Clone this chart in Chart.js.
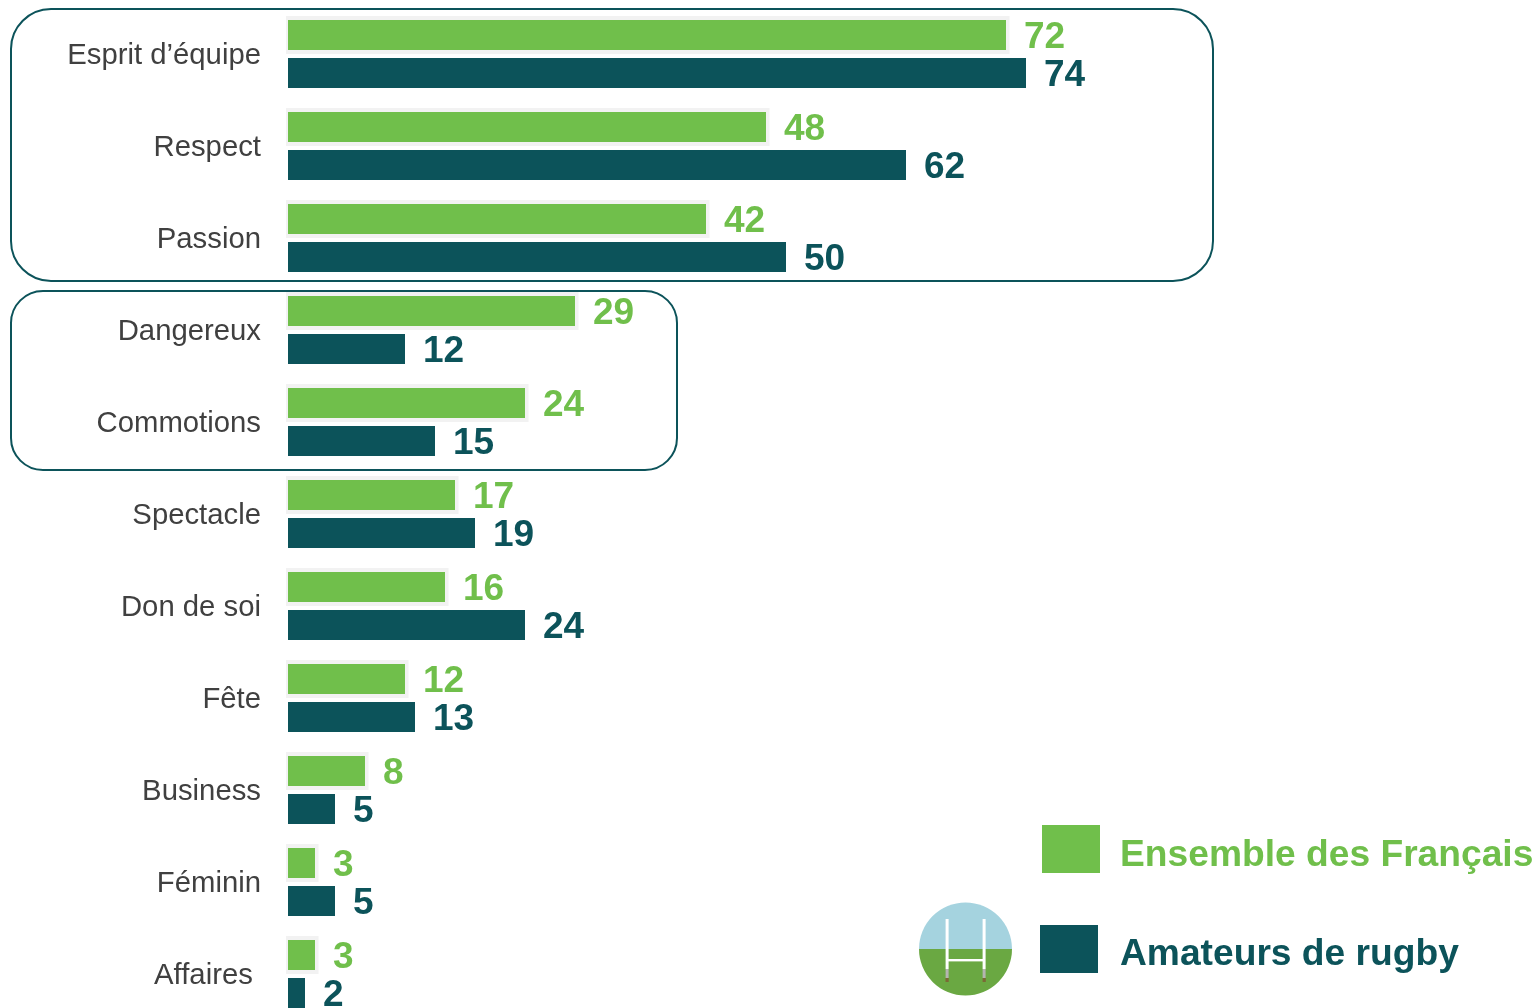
<!DOCTYPE html>
<html><head><meta charset="utf-8">
<script src="https://cdn.jsdelivr.net/npm/chart.js@4"></script>
<style>
html,body{margin:0;padding:0;width:1539px;height:1008px;overflow:hidden;background:#fff}
#c{position:absolute;left:0;top:0}
.sw{position:absolute;width:58px;height:48px}
.lg{position:absolute;left:1120px;font:bold 37.2px "Liberation Sans",Arial,sans-serif;white-space:nowrap;line-height:48px}
#ico{position:absolute;left:919px;top:902px}
</style></head><body>
<canvas id="c" width="1539" height="1020"></canvas>
<div class="sw" style="left:1042px;top:825px;background:#70BF4B"></div>
<div class="lg" style="top:829px;color:#70BF4B">Ensemble des Français</div>
<svg id="ico" width="94" height="94" viewBox="0 0 94 94">
<defs><clipPath id="cl"><circle cx="46.5" cy="47" r="46.5"/></clipPath></defs>
<g clip-path="url(#cl)"><rect width="94" height="47" fill="#A5D3DF"/><rect y="47" width="94" height="47" fill="#6AA842"/></g>
<rect x="26.6" y="17" width="3" height="50" fill="#fff"/><rect x="63.6" y="17" width="3" height="50" fill="#fff"/>
<rect x="27" y="57" width="39" height="2.4" fill="#fff"/>
<rect x="26.6" y="67" width="3" height="9" fill="#b5b5b0"/><rect x="63.6" y="67" width="3" height="9" fill="#b5b5b0"/>
<rect x="26.5" y="76" width="3.2" height="4" fill="#7a6a35"/><rect x="63.6" y="76" width="3.2" height="4" fill="#7a6a35"/>
</svg>
<div class="sw" style="left:1040px;top:925px;background:#0C535A"></div>
<div class="lg" style="top:928px;color:#0C535A">Amateurs de rugby</div>
<script>
const categories=["Esprit d’équipe","Respect","Passion","Dangereux","Commotions","Spectacle","Don de soi","Fête","Business","Féminin","Affaires "];
const ensemble=[71.8,47.8,41.8,28.7,23.7,16.7,15.7,11.7,7.7,2.7,2.7];
const amateurs=[73.8,61.8,49.8,11.7,14.7,18.7,23.7,12.7,4.7,4.7,1.7];
const GREEN="#70BF4B",TEAL="#0C535A";

function rr(ctx,x0,y0,x1,y1,r){ctx.beginPath();ctx.roundRect(x0,y0,x1-x0,y1-y0,r);ctx.stroke();}

const decor={id:"decor",
 beforeDatasetsDraw(ch){
  const ctx=ch.ctx,x=ch.scales.x,y=ch.scales.y;
  ctx.save();
  ctx.fillStyle="#F2F2F2";
  ch.getDatasetMeta(0).data.forEach(b=>{
    const h=b.height/2;
    ctx.fillRect(b.base-2,b.y-h-4,b.x-b.base+5.5,2*h+8);
  });
  ctx.strokeStyle=TEAL;ctx.lineWidth=2;
  const L=x.left-277;
  rr(ctx,L,y.getPixelForTick(0)-45,x.getPixelForValue(92.5),y.getPixelForTick(2)+43,40);
  rr(ctx,L,y.getPixelForTick(3)-39,x.getPixelForValue(38.9),y.getPixelForTick(4)+48,32);
  ctx.restore();
 },
 afterDatasetsDraw(ch){
  const ctx=ch.ctx;
  ctx.save();
  ctx.font='bold 37px "Liberation Sans",Arial,sans-serif';
  ctx.textAlign="left";ctx.textBaseline="middle";
  ch.data.datasets.forEach((ds,i)=>{
    ctx.fillStyle=ds.backgroundColor;
    ch.getDatasetMeta(i).data.forEach((b,j)=>{
      ctx.fillText(String(Math.round(ds.data[j])),b.x+18,b.y+3);
    });
  });
  ctx.restore();
 }};

new Chart(document.getElementById("c"),{
 type:"bar",
 data:{labels:categories,datasets:[
  {label:"Ensemble des Français",data:ensemble,backgroundColor:GREEN,categoryPercentage:0.826,barPercentage:0.79},
  {label:"Amateurs de rugby",data:amateurs,backgroundColor:TEAL,categoryPercentage:0.826,barPercentage:0.79}
 ]},
 options:{indexAxis:"y",responsive:false,animation:false,
  layout:{padding:{top:8,left:0,right:0,bottom:0}},
  plugins:{legend:{display:false},tooltip:{enabled:false}},
  scales:{
   x:{display:false,min:0,max:125.1,grid:{display:false}},
   y:{afterFit(s){
        s.width=288;s.paddingTop=0;s.paddingBottom=0;
        if(!s._shifted){
          s._shifted=true;
          const draw=s.drawLabels;
          s.drawLabels=function(a){const c=this.ctx;c.save();c.translate(0,2);draw.call(this,a);c.restore();};
        }
      },
      grid:{display:false,drawTicks:false},border:{display:false},
      ticks:{padding:27,color:"#404040",font:{family:'"Liberation Sans",Arial,sans-serif',size:29.3},autoSkip:false}}
  }},
 plugins:[decor]
});
</script>
</body></html>
